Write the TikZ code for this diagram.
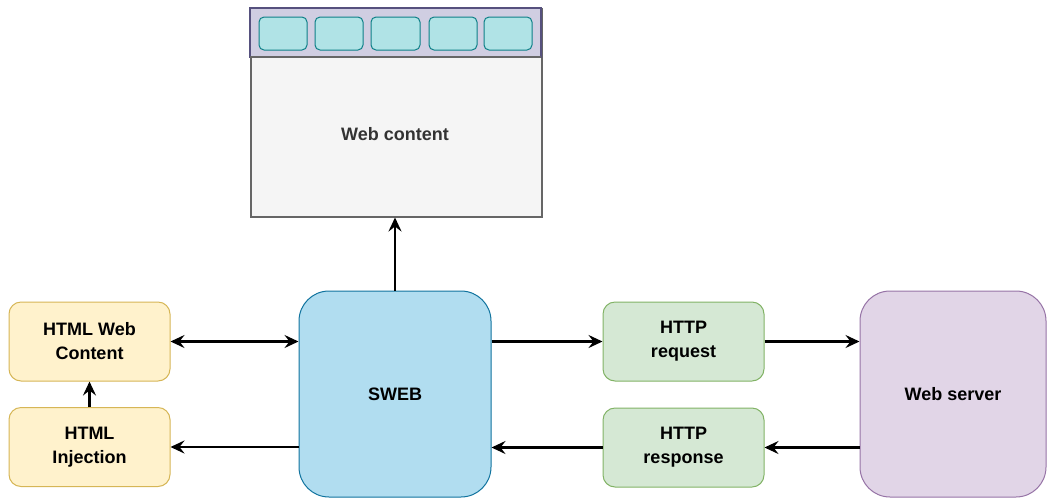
\documentclass[tikz,border=0pt]{standalone}
\usepackage{fontspec}
\setmainfont{Liberation Sans}
\usetikzlibrary{arrows.meta,calc,positioning}
\definecolor{yelfill}{HTML}{FFF2CC}
\definecolor{yeldraw}{HTML}{D6B656}
\definecolor{grnfill}{HTML}{D5E8D4}
\definecolor{grndraw}{HTML}{82B366}
\definecolor{bluefill}{HTML}{B1DDF0}
\definecolor{bluedraw}{HTML}{10739E}
\definecolor{purfill}{HTML}{E1D5E7}
\definecolor{purdraw}{HTML}{9673A6}
\definecolor{barfill}{HTML}{D0CEE2}
\definecolor{bardraw}{HTML}{56517E}
\definecolor{tabfill}{HTML}{B0E3E6}
\definecolor{tabdraw}{HTML}{0E8088}
\definecolor{pagefill}{HTML}{F5F5F5}
\definecolor{pagedraw}{HTML}{666666}

\begin{document}
\begin{tikzpicture}[x=1pt,y=-1pt,
    box/.style={draw, line width=1pt, rounded corners=12pt, minimum width=161pt,
      minimum height=79pt, align=center, font=\fontsize{18}{24}\selectfont\bfseries},
    yelbox/.style={box, fill=yelfill, draw=yeldraw},
    grnbox/.style={box, fill=grnfill, draw=grndraw},
    bigbox/.style={box, rounded corners=30pt, minimum height=206pt},
    tab/.style={draw=tabdraw, fill=tabfill, line width=1pt, rounded corners=5pt},
    tip/.tip={Stealth[length=14pt,width=13pt,inset=5pt]},
    link/.style={line width=2.4pt, -tip}]
  \useasboundingbox (0,0) rectangle (1049,499);
  % browser window
  \node[draw=pagedraw, fill=pagefill, line width=1.5pt, minimum width=291pt,
    minimum height=208pt, anchor=north west, inner sep=0pt] (webc) at (250,8) {};
  \filldraw[fill=barfill, draw=bardraw, line width=1.5pt] (250,8) rectangle (541,57);
  \draw[pagedraw, line width=1.5pt] (250,57) -- (541,57);
  \foreach \xa/\xb in {259/307, 315/363, 371/420, 429/477, 484/532}
    \draw[tab] (\xa,17) rectangle (\xb,50);
  \node[text=black!80, font=\fontsize{18}{24}\selectfont\bfseries] (webtxt) at (395,134) {Web content};
  % boxes
  \node[yelbox] (hwc) at (89.5,341.5) {HTML Web\\Content};
  \node[yelbox] (inj) at (89.5,447) {HTML\\Injection};
  \node[bigbox, fill=bluefill, draw=bluedraw, minimum width=192pt] (sweb) at (395,394) {SWEB};
  \node[grnbox] (req) at (683.5,341.5) {HTTP\\request};
  \node[grnbox] (resp) at (683.5,447.5) {HTTP\\response};
  \node[bigbox, fill=purfill, draw=purdraw, minimum width=186pt] (srv) at (953,394) {Web server};
  % arrows
  \draw[link] (sweb.north) -- (sweb.north |- webc.south);
  \draw[link, tip-tip] (hwc.east) -- (hwc.east -| sweb.west);
  \draw[link] (inj.north) -- (hwc.south);
  \draw[link] (sweb.west |- inj.east) -- (inj.east);
  \draw[link] (sweb.east |- req.west) -- (req.west);
  \draw[link] (req.east) -- (req.east -| srv.west);
  \draw[link] (srv.west |- resp.east) -- (resp.east);
  \draw[link] (resp.west) -- (resp.west -| sweb.east);
\end{tikzpicture}
\end{document}
